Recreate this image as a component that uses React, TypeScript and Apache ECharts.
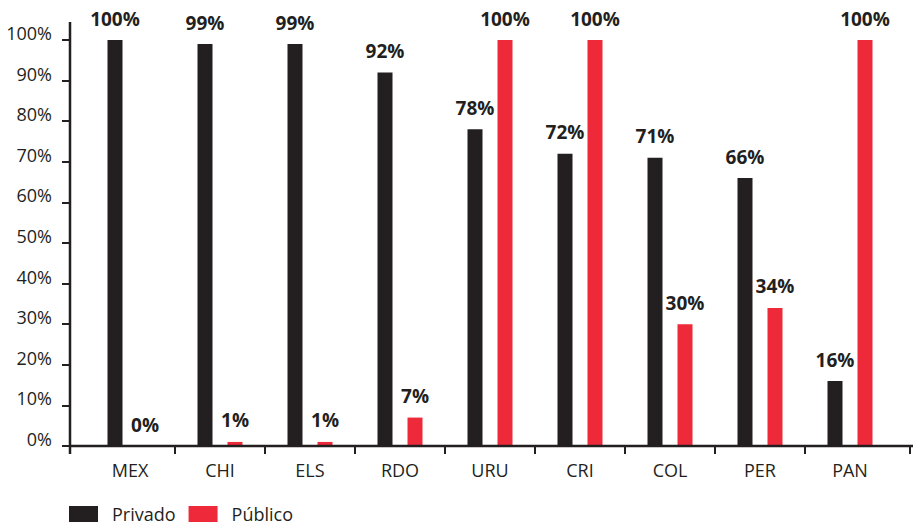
import React, { useEffect, useRef } from "react";
import * as echarts from "echarts";

const categories = ["MEX", "CHI", "ELS", "RDO", "URU", "CRI", "COL", "PER", "PAN"];
const privado = [100, 99, 99, 92, 78, 72, 71, 66, 16];
const publico = [0, 1, 1, 7, 100, 100, 30, 34, 100];
const seriesNames = ["Privado", "Público"];

const INK = "#231f20";
const RED = "#ee2a3a";
const FONT = "'Open Sans', 'Noto Sans', sans-serif";

const W = 915;
const H = 525;
const GRID_LEFT = 85;
const GRID_RIGHT = 20;
const GRID_TOP = 40;
const GRID_BOTTOM = 79;

export default function App() {
  const ref = useRef<HTMLDivElement>(null);

  useEffect(() => {
    if (!ref.current) return;
    const chart = echarts.init(ref.current, undefined, { renderer: "svg" });

    const plotW = W - GRID_LEFT - GRID_RIGHT;
    const band = plotW / categories.length;
    const baseY = H - GRID_BOTTOM;
    const axisX = 70;

    // Frame: y axis line running above the plot, x axis line across the width,
    // and the category separator ticks below the x axis.
    const tickXs = [axisX];
    for (let i = 1; i < categories.length; i++) tickXs.push(GRID_LEFT + band * i);
    tickXs.push(910);

    const frame: any[] = [
      {
        type: "line",
        shape: { x1: axisX, y1: 22, x2: axisX, y2: baseY + 8 },
        style: { stroke: INK, lineWidth: 2.5 },
        z: 10,
      },
      {
        type: "line",
        shape: { x1: axisX, y1: baseY, x2: 913, y2: baseY },
        style: { stroke: INK, lineWidth: 2.5 },
        z: 10,
      },
      ...tickXs.map((x) => ({
        type: "line",
        shape: { x1: x, y1: baseY, x2: x, y2: baseY + 8 },
        style: { stroke: INK, lineWidth: 2 },
        z: 10,
      })),
    ];

    const barLabel = {
      show: true,
      position: "top",
      distance: 12,
      formatter: "{c}%",
      color: INK,
      fontFamily: FONT,
      fontWeight: "bold",
      fontSize: 19,
    };

    chart.setOption({
      animation: false,
      textStyle: { fontFamily: FONT, color: INK },
      grid: {
        left: GRID_LEFT,
        right: GRID_RIGHT,
        top: GRID_TOP,
        bottom: GRID_BOTTOM,
      },
      legend: {
        data: seriesNames,
        left: 69,
        top: 505,
        padding: 0,
        itemWidth: 29,
        itemHeight: 16,
        itemGap: 13,
        icon: "rect",
        textStyle: {
          fontFamily: FONT,
          fontSize: 18,
          color: INK,
          padding: [0, 0, 0, 9],
        },
      },
      xAxis: {
        type: "category",
        data: categories,
        axisLine: { show: false },
        axisTick: { show: false },
        axisLabel: {
          color: INK,
          fontFamily: FONT,
          fontSize: 18,
          margin: 15,
        },
      },
      yAxis: {
        type: "value",
        min: 0,
        max: 100,
        interval: 10,
        offset: GRID_LEFT - axisX,
        splitLine: { show: false },
        axisLine: { show: false },
        axisTick: {
          show: true,
          length: 8,
          lineStyle: { color: INK, width: 2 },
        },
        axisLabel: {
          formatter: "{value}%",
          color: INK,
          fontFamily: FONT,
          fontSize: 18,
          margin: 18,
          verticalAlign: "bottom",
          lineHeight: 14,
        },
      },
      series: [
        {
          name: seriesNames[0],
          type: "bar",
          data: privado,
          barWidth: 15,
          barGap: "100%",
          itemStyle: { color: INK },
          label: barLabel,
        },
        {
          name: seriesNames[1],
          type: "bar",
          data: publico,
          barWidth: 15,
          itemStyle: { color: RED },
          label: barLabel,
        },
      ],
      graphic: frame,
    });

    return () => chart.dispose();
  }, []);

  return (
    <div
      ref={ref}
      style={{ position: "fixed", left: 0, top: 0, width: W, height: H, background: "#fff" }}
    />
  );
}
